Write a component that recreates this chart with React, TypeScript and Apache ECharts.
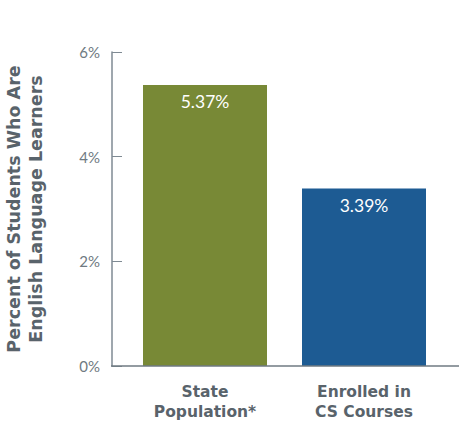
import React, { useEffect, useRef } from "react";
import * as echarts from "echarts";

const categories = ["State\nPopulation*", "Enrolled in\nCS Courses"];
const values = [5.37, 3.39];
const barColors = ["#788936", "#1d5b93"];
const yTicks = { min: 0, max: 6, interval: 2 };

export default function App() {
  const ref = useRef<HTMLDivElement>(null);
  useEffect(() => {
    if (!ref.current) return;
    const chart = echarts.init(ref.current, undefined, { renderer: "svg" });
    const boldFont = "'DejaVu Sans', sans-serif";
    const lightFont = "Lato, 'Open Sans', sans-serif";
    chart.setOption({
      animation: false,
      grid: { left: 125.5, width: 318, top: 52, height: 314, outerBoundsMode: "none", containLabel: false },
      graphic: [
        {
          type: "line",
          shape: { x1: 111, y1: 366, x2: 459, y2: 366 },
          style: { stroke: "#6f7a82", lineWidth: 1.5 },
          z: 10,
        },
      ],
      xAxis: {
        type: "category",
        data: categories,
        axisLine: { show: false },
        axisTick: { show: false },
        axisLabel: {
          color: "#59636b",
          fontFamily: boldFont,
          fontWeight: "bold",
          fontSize: 15.5,
          lineHeight: 20,
          margin: 16,
        },
      },
      yAxis: {
        type: "value",
        min: yTicks.min,
        max: yTicks.max,
        interval: yTicks.interval,
        offset: 13.5,
        name: "Percent of Students Who Are\nEnglish Language Learners",
        nameLocation: "middle",
        nameRotate: 90,
        nameGap: 65,
        nameTextStyle: {
          color: "#59636b",
          fontFamily: boldFont,
          fontWeight: "bold",
          fontSize: 17.5,
          lineHeight: 22,
        },
        axisLine: { show: true, lineStyle: { color: "#7f8a93", width: 1.5 } },
        axisTick: { show: true, inside: true, length: 10, lineStyle: { color: "#7f8a93" } },
        splitLine: { show: false },
        axisLabel: {
          formatter: "{value}%",
          color: "#6f7a82",
          fontFamily: lightFont,
          fontSize: 15,
          margin: 12,
        },
      },
      series: [
        {
          type: "bar",
          barWidth: 124,
          data: values.map((v, i) => ({ value: v, itemStyle: { color: barColors[i] } })),
          label: {
            show: true,
            position: "insideTop",
            distance: 8,
            color: "#ffffff",
            fontFamily: lightFont,
            fontSize: 17.5,
            formatter: (p: any) => p.value.toFixed(2) + "%",
          },
        },
      ],
    });
    return () => chart.dispose();
  }, []);
  return <div ref={ref} style={{ width: 459, height: 421, position: "absolute", left: 0, top: 0 }} />;
}
